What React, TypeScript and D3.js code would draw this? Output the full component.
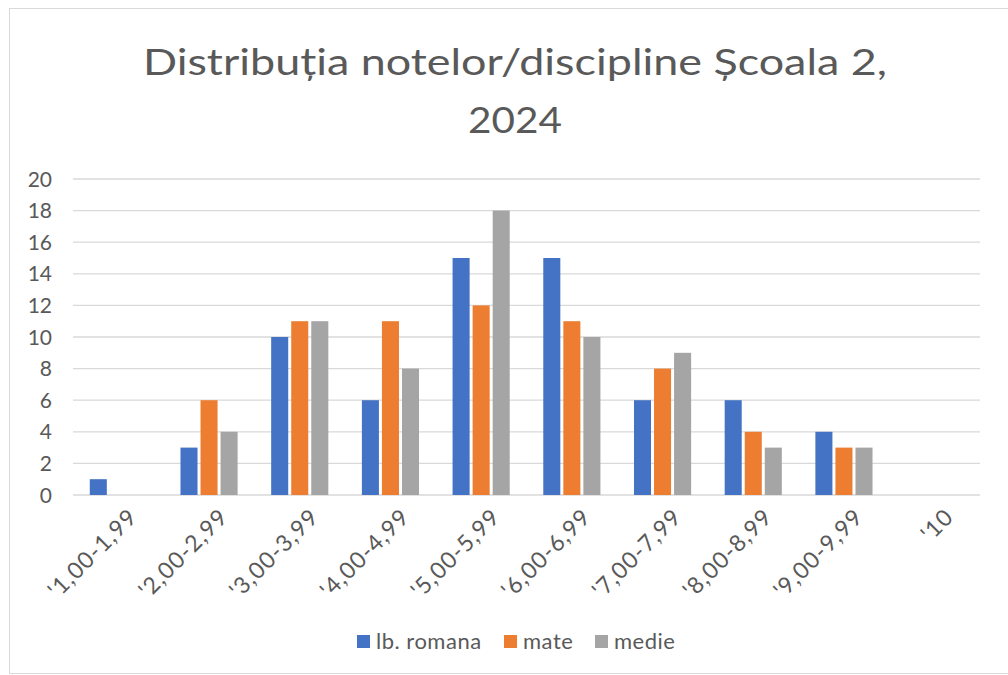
import React from "react";
import * as d3 from "d3";

const categories = ["'1,00-1,99", "'2,00-2,99", "'3,00-3,99", "'4,00-4,99", "'5,00-5,99", "'6,00-6,99", "'7,00-7,99", "'8,00-8,99", "'9,00-9,99", "'10"];
const seriesNames = ["lb. romana", "mate", "medie"];
const lbRomana = [1, 3, 10, 6, 15, 15, 6, 6, 4, 0];
const mate = [0, 6, 11, 11, 12, 11, 8, 4, 3, 0];
const medie = [0, 4, 11, 8, 18, 10, 9, 3, 3, 0];
const yTicks = [0, 2, 4, 6, 8, 10, 12, 14, 16, 18, 20];
const colors = ["#4472C4", "#ED7D31", "#A5A5A5"];

const FONT = "Lato, 'Open Sans', sans-serif";
const TEXT = "#595959";

export default function App() {
  const W = 1008, H = 675;
  const left = 73, right = 980, top = 179, bottom = 495;
  const seriesValues = [lbRomana, mate, medie];

  const x0 = d3.scaleBand<string>().domain(categories).range([left, right]).paddingInner(0.37).paddingOuter(0.185);
  const x1 = d3.scaleBand<string>().domain(seriesNames).range([0, x0.bandwidth()]).paddingInner(0.15);
  const y = d3.scaleLinear().domain([0, 20]).range([bottom, top]);

  const legendItems = [
    { name: seriesNames[0], x: 357 },
    { name: seriesNames[1], x: 504 },
    { name: seriesNames[2], x: 595 },
  ];

  return (
    <svg width={W} height={H} style={{ position: "absolute", left: 0, top: 0, background: "#fff" }} fontFamily={FONT}>
      <rect x={9.5} y={8.5} width={1010} height={665} fill="#fff" stroke="#d9d9d9" strokeWidth={1} />
      <text x={515} y={75} textAnchor="middle" fontSize={37} fill={TEXT} textLength={744} lengthAdjust="spacingAndGlyphs">Distribuția notelor/discipline Școala 2,</text>
      <text x={515} y={133} textAnchor="middle" fontSize={37} fill={TEXT} textLength={94} lengthAdjust="spacingAndGlyphs">2024</text>

      {yTicks.map((t) => (
        <g key={t}>
          <line x1={left} x2={right} y1={y(t)} y2={y(t)} stroke="#d9d9d9" strokeWidth={t === 0 ? 1.5 : 1.3} />
          <text x={52} y={y(t)} dy="0.36em" textAnchor="end" fontSize={21} fill={TEXT}>{t}</text>
        </g>
      ))}

      {categories.map((c, i) => (
        <g key={c}>
          {seriesNames.map((s, j) => {
            const v = seriesValues[j][i];
            if (v <= 0) return null;
            return (
              <rect key={s} x={(x0(c) as number) + (x1(s) as number)} y={y(v)} width={x1.bandwidth()} height={y(0) - y(v)} fill={colors[j]} />
            );
          })}
          <text
            transform={`translate(${(x0(c) as number) + x0.bandwidth() / 2 + 9},${bottom + 12}) rotate(-45)`}
            textAnchor="end"
            dy="0.7em"
            fontSize={23}
            letterSpacing={1.1}
            fill={TEXT}
          >
            {c}
          </text>
        </g>
      ))}

      {legendItems.map((l, i) => (
        <g key={l.name}>
          <rect x={l.x} y={635} width={13} height={13} fill={colors[i]} />
          <text x={l.x + 19} y={641} dy="0.36em" fontSize={22} letterSpacing={0.5} fill={TEXT}>{l.name}</text>
        </g>
      ))}
    </svg>
  );
}
